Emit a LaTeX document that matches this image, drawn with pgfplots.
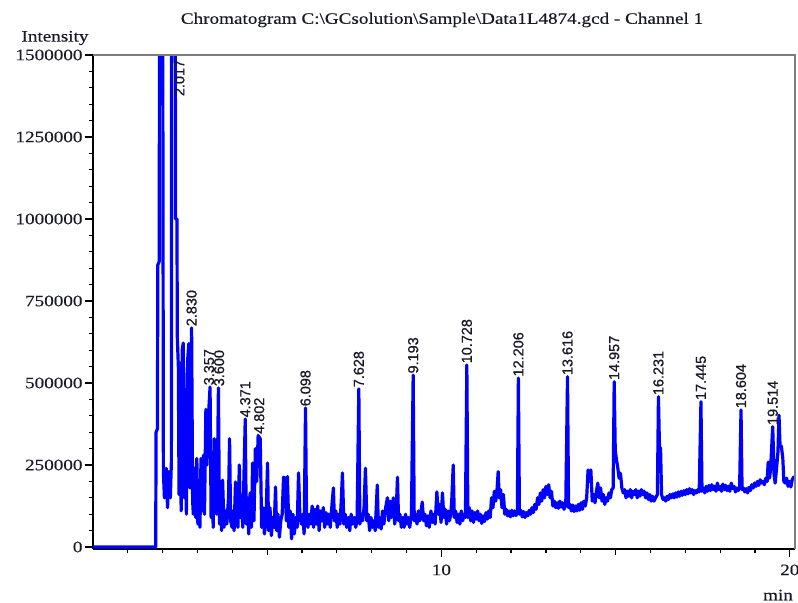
\documentclass[border=0pt]{standalone}
\usepackage{fontspec}
\setmainfont{Liberation Serif}[FakeStretch=1.2, FakeBold=0.4]
\newfontfamily\lblfont{Liberation Sans}[FakeBold=0.8]
\usepackage{pgfplots}
\pgfplotsset{compat=1.18}
\definecolor{trace}{RGB}{0,0,255}
\definecolor{txt}{RGB}{25,25,40}
\definecolor{frame}{RGB}{125,125,125}

\pgfplotstableread{
t I
0 0
1.80 0
1.81 350000
1.85 360000
1.86 860000
1.90 870000
1.92 2500000
1.99 2500000
2.02 230000
2.05 150000
2.10 240000
2.14 120000
2.18 230000
2.22 150000
2.25 260000
2.26 2500000
2.35 2500000
2.37 1000000
2.41 1000000
2.42 640000
2.45 550000
2.47 160000
2.50 560000
2.53 110000
2.56 600000
2.59 622000
2.62 150000
2.65 480000
2.68 100000
2.71 560000
2.75 620000
2.78 180000
2.83 668000
2.86 140000
2.88 100000
2.92 240000
2.95 90000
2.98 270000
3.01 70000
3.04 150000
3.07 60000
3.10 270000
3.13 110000
3.17 280000
3.20 100000
3.24 420000
3.27 250000
3.33 430000
3.36 488000
3.39 90000
3.42 200000
3.45 60000
3.48 330000
3.51 150000
3.55 100000
3.58 300000
3.60 485000
3.63 70000
3.66 200000
3.69 50000
3.72 204000
3.76 60000
3.80 110000
3.84 70000
3.89 150000
3.92 330000
3.95 80000
3.99 60000
4.02 110000
4.05 50000
4.09 198000
4.12 90000
4.16 60000
4.20 250000
4.23 90000
4.27 140000
4.30 60000
4.34 250000
4.37 390000
4.40 70000
4.44 150000
4.47 40000
4.51 165000
4.55 60000
4.58 256000
4.62 80000
4.66 300000
4.70 200000
4.74 340000
4.80 330000
4.84 60000
4.88 120000
4.92 40000
4.97 100000
5.01 256000
5.04 50000
5.08 120000
5.12 35000
5.16 90000
5.20 60000
5.24 183000
5.27 50000
5.31 100000
5.35 30000
5.39 80000
5.43 100000
5.47 213000
5.51 210000
5.55 80000
5.58 215000
5.62 60000
5.66 110000
5.70 25000
5.74 100000
5.78 40000
5.82 90000
5.86 60000
5.90 226000
5.94 90000
5.98 70000
6.02 100000
6.06 40000
6.10 424000
6.13 80000
6.17 60000
6.21 100000
6.25 70000
6.29 125000
6.33 60000
6.37 115000
6.41 70000
6.45 125000
6.49 50000
6.53 110000
6.57 80000
6.61 120000
6.65 60000
6.69 105000
6.73 70000
6.77 100000
6.81 60000
6.86 130000
6.90 180000
6.93 80000
6.97 110000
7.01 60000
7.05 100000
7.09 70000
7.13 150000
7.16 226000
7.20 70000
7.24 100000
7.28 60000
7.33 90000
7.37 50000
7.41 100000
7.45 70000
7.50 90000
7.54 60000
7.58 80000
7.63 482000
7.66 70000
7.70 100000
7.74 80000
7.78 120000
7.82 240000
7.86 80000
7.90 100000
7.94 50000
7.98 90000
8.02 60000
8.06 80000
8.10 50000
8.16 189000
8.19 60000
8.23 90000
8.27 55000
8.31 110000
8.35 70000
8.40 120000
8.45 150000
8.49 80000
8.53 140000
8.57 90000
8.62 150000
8.66 70000
8.70 100000
8.74 213000
8.77 80000
8.81 100000
8.85 60000
8.89 90000
8.93 60000
8.97 100000
9.01 70000
9.05 90000
9.09 60000
9.14 100000
9.19 524000
9.22 80000
9.26 100000
9.30 70000
9.34 110000
9.38 80000
9.45 137000
9.49 80000
9.53 100000
9.57 65000
9.61 95000
9.65 60000
9.70 110000
9.74 75000
9.78 100000
9.82 70000
9.87 168000
9.91 100000
9.95 130000
9.99 75000
10.03 165000
10.07 90000
10.11 115000
10.15 70000
10.19 110000
10.23 80000
10.27 100000
10.30 150000
10.34 250000
10.37 90000
10.41 110000
10.45 75000
10.49 100000
10.53 70000
10.57 110000
10.61 80000
10.65 100000
10.69 90000
10.73 555000
10.76 90000
10.80 120000
10.84 80000
10.88 110000
10.92 75000
10.96 105000
11.00 85000
11.04 110000
11.08 80000
11.12 100000
11.16 72000
11.20 95000
11.24 78000
11.28 105000
11.32 85000
11.36 110000
11.40 90000
11.44 150000
11.48 120000
11.52 170000
11.56 140000
11.60 180000
11.63 230000
11.66 150000
11.70 175000
11.74 120000
11.78 160000
11.82 100000
11.86 115000
11.90 95000
11.94 110000
11.98 92000
12.02 112000
12.06 95000
12.10 110000
12.14 96000
12.18 105000
12.21 515000
12.24 100000
12.28 112000
12.32 92000
12.36 108000
12.40 90000
12.44 105000
12.48 95000
12.52 112000
12.56 100000
12.60 120000
12.64 105000
12.68 130000
12.72 115000
12.76 150000
12.80 130000
12.84 165000
12.88 140000
12.92 175000
12.96 150000
13.00 185000
13.04 160000
13.08 190000
13.12 150000
13.16 170000
13.20 125000
13.24 140000
13.28 120000
13.32 135000
13.36 118000
13.40 140000
13.44 122000
13.48 135000
13.52 115000
13.57 130000
13.62 519000
13.65 120000
13.69 130000
13.73 110000
13.77 128000
13.81 108000
13.85 125000
13.89 110000
13.93 130000
13.97 112000
14.01 135000
14.05 115000
14.09 140000
14.13 125000
14.17 150000
14.21 235000
14.25 200000
14.29 235000
14.33 140000
14.37 160000
14.41 135000
14.45 170000
14.49 195000
14.53 150000
14.57 180000
14.61 140000
14.65 160000
14.69 130000
14.73 150000
14.77 140000
14.81 165000
14.85 150000
14.89 175000
14.93 180000
14.96 504000
14.99 296000
15.02 270000
15.06 244000
15.10 210000
15.14 225000
15.18 180000
15.22 165000
15.26 175000
15.30 150000
15.34 170000
15.38 155000
15.42 175000
15.46 150000
15.50 170000
15.54 160000
15.58 175000
15.62 150000
15.66 170000
15.70 155000
15.74 175000
15.78 160000
15.82 170000
15.86 150000
15.90 165000
15.94 145000
15.98 160000
16.02 140000
16.06 155000
16.10 140000
16.15 150000
16.20 160000
16.23 458000
16.26 300000
16.29 302000
16.32 160000
16.36 145000
16.40 150000
16.44 140000
16.48 155000
16.52 145000
16.56 160000
16.60 150000
16.64 162000
16.68 150000
16.72 165000
16.76 152000
16.80 168000
16.84 155000
16.88 170000
16.92 158000
16.96 172000
17.00 160000
17.04 175000
17.08 162000
17.12 178000
17.16 165000
17.20 175000
17.24 160000
17.28 172000
17.32 165000
17.36 175000
17.40 168000
17.45 443000
17.48 170000
17.52 180000
17.56 165000
17.60 185000
17.64 170000
17.68 188000
17.72 172000
17.76 190000
17.80 175000
17.84 185000
17.88 170000
17.92 195000
17.96 175000
18.00 185000
18.04 170000
18.08 192000
18.12 175000
18.16 188000
18.20 172000
18.24 185000
18.28 170000
18.32 195000
18.36 178000
18.40 185000
18.44 168000
18.48 180000
18.52 172000
18.56 182000
18.60 418000
18.63 175000
18.67 180000
18.71 168000
18.75 178000
18.79 165000
18.83 182000
18.87 172000
18.91 190000
18.95 180000
18.99 195000
19.03 185000
19.07 200000
19.11 188000
19.15 205000
19.19 195000
19.23 200000
19.27 190000
19.31 210000
19.35 200000
19.38 259000
19.42 210000
19.45 240000
19.51 367000
19.55 220000
19.58 195000
19.62 240000
19.66 290000
19.69 402000
19.72 310000
19.76 306000
19.80 270000
19.83 200000
19.87 195000
19.91 210000
19.95 185000
19.99 200000
20.03 183000
20.07 205000
20.11 213000
20.15 205000
}\chrom

\begin{document}
\begin{tikzpicture}[x=1bp,y=1bp]
\path[use as bounding box] (0,0) rectangle (798,603);
\begin{axis}[
  at={(93bp,54bp)}, anchor=south west,
  width=702bp, height=494bp, scale only axis,
  xmin=0, xmax=20.15, ymin=-6000, ymax=1500000,
  axis x line*=bottom, axis y line*=left,
  axis line style={black, line width=1.6bp},
  tick align=outside,
  tick style={black, line width=1.2bp},
  major tick length=8bp, minor tick length=4.5bp,
  xtick={10,20}, minor xtick={1,2,3,4,6,7,8,9,11,12,13,14,16,17,18,19},
  extra x ticks={5,15}, extra x tick labels={},
  extra x tick style={major tick length=6bp},
  ytick={0,250000,500000,750000,1000000,1250000,1500000},
  minor y tick num=4,
  scaled y ticks=false,
  yticklabel style={/pgf/number format/fixed, /pgf/number format/1000 sep={}},
  /pgf/number format/assume math mode=true,
  ticklabel style={font=\fontsize{16}{18}\selectfont, text=txt},
  xticklabel style={yshift=-4bp},
  yticklabel style={xshift=1bp},
  clip=true,
]
\addplot[trace, line width=3.2bp, line join=round] table[x=t, y=I] {\chrom};

\coordinate (tl) at (rel axis cs:0,1);
\coordinate (tr) at (rel axis cs:1,1);
\coordinate (br) at (rel axis cs:1,0);

\begin{scope}[every node/.style={rotate=90, font=\lblfont\fontsize{14.5}{15}\selectfont, text=txt, inner sep=1.5bp}]
\node[anchor=east] at (axis cs:2.48,1490000) {2.017};
\node[anchor=west] at (axis cs:2.83,668000) {2.830};
\node[anchor=west] at (axis cs:3.33,488000) {3.357};
\node[anchor=west] at (axis cs:3.62,485000) {3.600};
\node[anchor=west] at (axis cs:4.37,390000) {4.371};
\node[anchor=west] at (axis cs:4.77,340000) {4.802};
\node[anchor=west] at (axis cs:6.10,424000) {6.098};
\node[anchor=west] at (axis cs:7.63,482000) {7.628};
\node[anchor=west] at (axis cs:9.19,524000) {9.193};
\node[anchor=west] at (axis cs:10.73,555000) {10.728};
\node[anchor=west] at (axis cs:12.21,515000) {12.206};
\node[anchor=west] at (axis cs:13.62,519000) {13.616};
\node[anchor=west] at (axis cs:14.96,504000) {14.957};
\node[anchor=west] at (axis cs:16.23,458000) {16.231};
\node[anchor=west] at (axis cs:17.45,443000) {17.445};
\node[anchor=west] at (axis cs:18.60,418000) {18.604};
\node[anchor=west] at (axis cs:19.51,367000) {19.514};
\end{scope}
\end{axis}
\draw[frame, line width=2.4bp] (tl) -- (tr) -- (br);
\node[text=txt, font=\fontsize{16}{18}\selectfont] at (442,583)
  {Chromatogram C:\textbackslash GCsolution\textbackslash Sample\textbackslash Data1L4874.gcd - Channel 1};
\node[text=txt, font=\fontsize{16}{18}\selectfont] at (55,565) {Intensity};
\node[text=txt, font=\fontsize{16}{18}\selectfont] at (778,8) {min};
\end{tikzpicture}
\end{document}
